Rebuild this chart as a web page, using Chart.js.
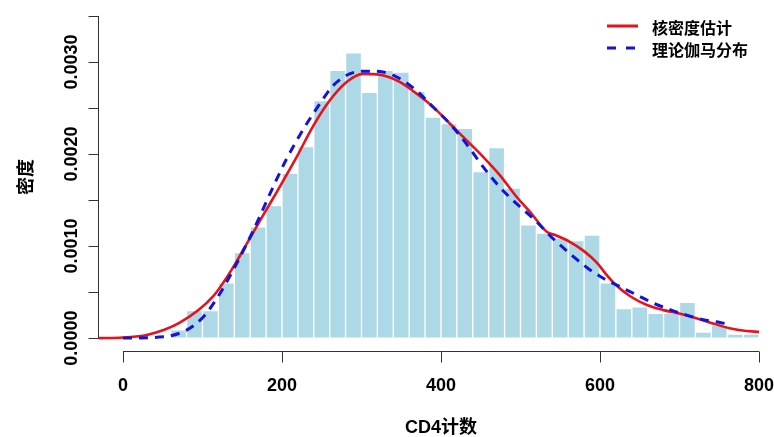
<!DOCTYPE html>
<html>
<head>
<meta charset="utf-8">
<script src="https://cdn.jsdelivr.net/npm/chart.js@4/dist/chart.umd.min.js"></script>
<style>
  html, body { margin: 0; padding: 0; background: #ffffff; }
  #wrap { width: 774px; height: 437px; }
</style>
</head>
<body>
<div id="wrap"><canvas id="c" width="774" height="437"></canvas></div>
<script>
// ---- data ----
const binStarts = [60, 80, 100, 120, 140, 160, 180, 200, 220, 240, 260, 280, 300, 320, 340, 360, 380, 400, 420, 440,
                   460, 480, 500, 520, 540, 560, 580, 600, 620, 640, 660, 680, 700, 720, 740, 760, 780];
const binWidth = 20;
const histDensity = [0.00009, 0.00030, 0.00030, 0.00060, 0.00093, 0.00121, 0.00144, 0.00179, 0.00208, 0.00258,
                     0.00291, 0.00310, 0.00267, 0.00291, 0.00289, 0.00268, 0.00240, 0.00233, 0.00228, 0.00181,
                     0.00207, 0.00163, 0.00123, 0.00114, 0.00109, 0.00106, 0.00112, 0.00060, 0.00032, 0.00034,
                     0.00027, 0.00027, 0.00039, 0.000065, 0.00014, 0.000043, 0.000043];

const kdeX = [-31, 0, 30, 72, 113, 139, 156, 176, 197, 218, 239, 260, 281, 302, 323, 348, 369, 390, 411, 432, 453,
              474, 495, 512, 533, 545, 562, 579, 596, 608, 619, 638, 659, 680, 701, 722, 742, 763, 784, 800];
const kdeY = [0.000000, 0.000006, 0.000033, 0.000170, 0.000450, 0.000775, 0.001030, 0.001330, 0.001640, 0.001960,
              0.002300, 0.002580, 0.002780, 0.002870, 0.002860, 0.002783, 0.002657, 0.002512, 0.002331, 0.002150,
              0.001969, 0.001770, 0.001535, 0.001372, 0.001155, 0.001115, 0.001046, 0.000950, 0.000820, 0.000690,
              0.000585, 0.000455, 0.000360, 0.000304, 0.000265, 0.000214, 0.000160, 0.000108, 0.000078, 0.000068];

const gammaX = [0, 51, 80, 101, 122, 143, 164, 185, 206, 227, 248, 264, 285, 306, 327, 348, 369, 390, 411, 432,
                453, 474, 495, 516, 541, 562, 583, 604, 625, 646, 667, 688, 709, 730, 751, 761];
const gammaY = [0.000000, 0.000015, 0.000087, 0.000230, 0.000485, 0.000810, 0.001170, 0.001570, 0.001950, 0.002270,
                0.002550, 0.002740, 0.002870, 0.002900, 0.002890, 0.002820, 0.002690, 0.002510, 0.002330, 0.002110,
                0.001860, 0.001640, 0.001460, 0.001300, 0.001080, 0.000920, 0.000770, 0.000650, 0.000560, 0.000470,
                0.000380, 0.000310, 0.000250, 0.000200, 0.000170, 0.000152];

const xTicks = [0, 200, 400, 600, 800];
const yTicks = [0, 0.0005, 0.0010, 0.0015, 0.0020, 0.0025, 0.0030, 0.0035];
const yLabelTicks = [0, 0.0010, 0.0020, 0.0030];
const xTitle = "CD4计数";
const yTitle = "密度";
const legendLabels = ["核密度估计", "理论伽马分布"];

// ---- build datasets ----
const barPoints = binStarts.map((s, i) => ({ x: s + binWidth / 2, y: histDensity[i] }));
const kdePoints = kdeX.map((x, i) => ({ x: x, y: kdeY[i] }));
const gammaPoints = gammaX.map((x, i) => ({ x: x, y: gammaY[i] }));

const RED = '#e8121a';
const BLUE = '#1414d8';
const NUMFONT = 'bold 18px "Liberation Sans", Arial, sans-serif';
const CJKFONT = 'bold 18px "Liberation Sans", "Noto Sans CJK SC", sans-serif';

const axesPlugin = {
  id: 'rAxes',
  afterDraw(chart) {
    const ctx = chart.ctx;
    const xs = chart.scales.x, ys = chart.scales.y;
    ctx.save();
    ctx.strokeStyle = '#333333';
    ctx.lineWidth = 1;
    ctx.fillStyle = '#000000';

    // y axis
    const ax = Math.round(chart.chartArea.left) + 0.5;
    ctx.beginPath();
    ctx.moveTo(ax, ys.getPixelForValue(yTicks[0]));
    ctx.lineTo(ax, ys.getPixelForValue(yTicks[yTicks.length - 1]));
    yTicks.forEach(v => {
      const py = Math.round(ys.getPixelForValue(v)) + 0.5;
      ctx.moveTo(ax - 10, py);
      ctx.lineTo(ax, py);
    });
    ctx.stroke();
    ctx.font = NUMFONT;
    ctx.textAlign = 'center';
    ctx.textBaseline = 'middle';
    yLabelTicks.forEach(v => {
      const py = ys.getPixelForValue(v);
      ctx.save();
      ctx.translate(72, py);
      ctx.rotate(-Math.PI / 2);
      ctx.fillText(v.toFixed(4), 0, 0);
      ctx.restore();
    });

    // x axis
    const ay = Math.round(chart.chartArea.bottom) + 0.5;
    ctx.beginPath();
    ctx.moveTo(xs.getPixelForValue(xTicks[0]), ay);
    ctx.lineTo(xs.getPixelForValue(xTicks[xTicks.length - 1]), ay);
    xTicks.forEach(v => {
      const px = Math.round(xs.getPixelForValue(v)) + 0.5;
      ctx.moveTo(px, ay);
      ctx.lineTo(px, ay + 11);
    });
    ctx.stroke();
    xTicks.forEach(v => {
      ctx.fillText(String(v), xs.getPixelForValue(v), 386);
    });

    // titles
    ctx.font = CJKFONT;
    ctx.fillText(xTitle, (xs.getPixelForValue(0) + xs.getPixelForValue(800)) / 2, 428);
    ctx.save();
    ctx.translate(27, (ys.getPixelForValue(0) + ys.getPixelForValue(0.0035)) / 2);
    ctx.rotate(-Math.PI / 2);
    ctx.fillText(yTitle, 0, 0);
    ctx.restore();

    // legend
    ctx.lineWidth = 3;
    ctx.strokeStyle = RED;
    ctx.beginPath();
    ctx.moveTo(607, 26);
    ctx.lineTo(638, 26);
    ctx.stroke();
    ctx.strokeStyle = BLUE;
    ctx.setLineDash([9, 10]);
    ctx.beginPath();
    ctx.moveTo(607, 48);
    ctx.lineTo(638, 48);
    ctx.stroke();
    ctx.setLineDash([]);
    ctx.font = 'bold 16px "Noto Sans CJK SC", sans-serif';
    ctx.textAlign = 'left';
    ctx.fillText(legendLabels[0], 652, 28);
    ctx.fillText(legendLabels[1], 652, 50);
    ctx.restore();
  }
};

new Chart(document.getElementById('c'), {
  type: 'bar',
  data: {
    datasets: [
      {
        type: 'line', label: legendLabels[1], data: gammaPoints, order: 0,
        borderColor: BLUE, borderWidth: 3, borderDash: [9, 7], borderCapStyle: 'butt',
        pointRadius: 0, fill: false, cubicInterpolationMode: 'monotone'
      },
      {
        type: 'line', label: legendLabels[0], data: kdePoints, order: 1,
        borderColor: RED, borderWidth: 2.6, pointRadius: 0, fill: false,
        cubicInterpolationMode: 'monotone'
      },
      {
        type: 'bar', label: 'hist', data: barPoints, order: 2,
        backgroundColor: '#add8e6', borderColor: '#ffffff', borderWidth: 1,
        barPercentage: 1.0, categoryPercentage: 1.0, borderSkipped: false
      }
    ]
  },
  options: {
    responsive: false,
    animation: false,
    devicePixelRatio: 1,
    layout: { padding: { left: 98, right: 15, top: 3, bottom: 86 } },
    plugins: { legend: { display: false }, tooltip: { enabled: false } },
    scales: {
      x: { type: 'linear', min: -31.4, max: 800, offset: false, display: false },
      y: { type: 'linear', min: -0.00014, max: 0.00364, display: false }
    }
  },
  plugins: [axesPlugin]
});
</script>
</body>
</html>
